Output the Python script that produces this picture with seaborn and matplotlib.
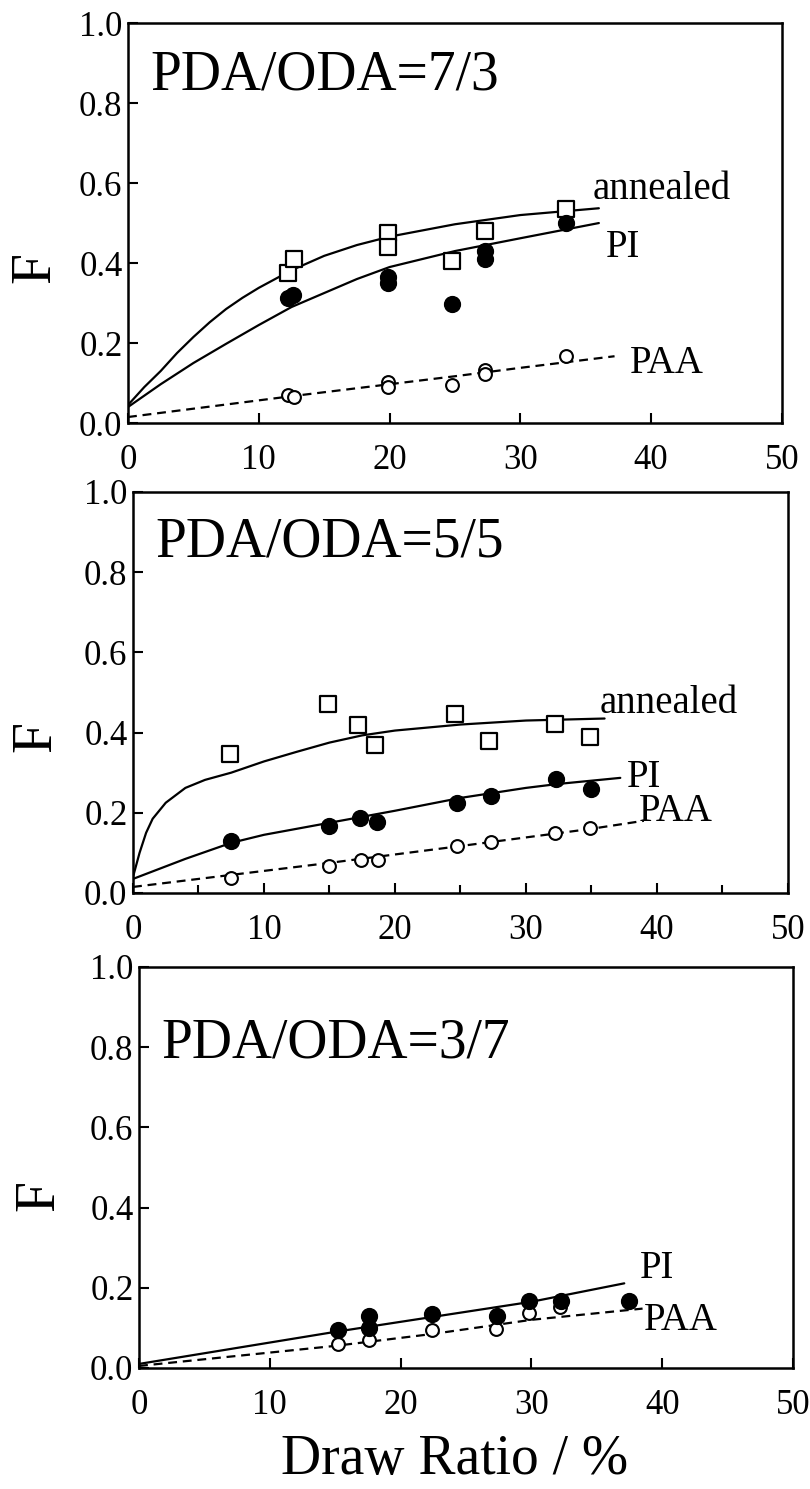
import matplotlib
matplotlib.use("Agg")
import matplotlib.pyplot as plt
import seaborn as sns
from matplotlib.ticker import MultipleLocator

sns.set_theme(style="ticks")
plt.rcParams['font.family'] = ['Liberation Serif', 'DejaVu Serif']
plt.rcParams['lines.dashed_pattern'] = [4.0, 2.6]
for key in ['text.color', 'axes.labelcolor', 'xtick.color', 'ytick.color', 'axes.edgecolor']:
    plt.rcParams[key] = 'black'

# ---- panel 1 : PDA/ODA=7/3 ----
p1_ann_x = [12.2, 12.7, 19.9, 19.9, 24.8, 27.3, 33.5]
p1_ann_y = [0.374, 0.409, 0.476, 0.441, 0.406, 0.481, 0.534]
p1_pi_x = [12.2, 12.6, 19.9, 19.9, 24.8, 27.3, 27.3, 33.5]
p1_pi_y = [0.312, 0.319, 0.364, 0.349, 0.297, 0.431, 0.411, 0.501]
p1_paa_x = [12.2, 12.7, 19.9, 19.9, 24.8, 27.3, 27.3, 33.5]
p1_paa_y = [0.070, 0.065, 0.102, 0.090, 0.095, 0.132, 0.122, 0.167]

p1_ann_fit_x = [0, 1.25, 2.5, 3.75, 5, 6.25, 7.5, 8.75, 10, 12.5, 15, 17.5, 20, 25, 30, 36]
p1_ann_fit_y = [0.045, 0.09, 0.13, 0.175, 0.215, 0.252, 0.285, 0.313, 0.338, 0.382, 0.418,
                0.445, 0.466, 0.497, 0.52, 0.537]
p1_pi_fit_x = [0, 2.5, 5, 7.5, 10, 12.5, 15, 17.5, 20, 25, 30, 36]
p1_pi_fit_y = [0.04, 0.097, 0.15, 0.198, 0.245, 0.29, 0.325, 0.36, 0.39, 0.43, 0.462, 0.50]
p1_paa_fit_x = [0, 12, 20, 25, 30, 37.2]
p1_paa_fit_y = [0.015, 0.065, 0.097, 0.117, 0.138, 0.167]

# ---- panel 2 : PDA/ODA=5/5 ----
p2_ann_x = [7.4, 14.9, 17.2, 18.5, 24.6, 27.2, 32.2, 34.9]
p2_ann_y = [0.347, 0.470, 0.418, 0.368, 0.446, 0.380, 0.421, 0.388]
p2_pi_x = [7.5, 15.0, 17.3, 18.6, 24.7, 27.3, 32.3, 35.0]
p2_pi_y = [0.130, 0.168, 0.187, 0.176, 0.225, 0.243, 0.284, 0.259]
p2_paa_x = [7.5, 15.0, 17.4, 18.7, 24.7, 27.3, 32.2, 34.9]
p2_paa_y = [0.037, 0.067, 0.082, 0.082, 0.116, 0.128, 0.150, 0.162]

p2_ann_fit_x = [0, 0.5, 1, 1.5, 2.5, 4, 5.5, 7.5, 10, 12.5, 15, 17.5, 20, 25, 30, 36]
p2_ann_fit_y = [0.04, 0.10, 0.15, 0.185, 0.225, 0.262, 0.282, 0.30, 0.328, 0.352, 0.375,
                0.393, 0.405, 0.42, 0.43, 0.435]
p2_pi_fit_x = [0, 4, 7.5, 10, 15, 20, 25, 30, 32.5, 37.2]
p2_pi_fit_y = [0.035, 0.085, 0.125, 0.145, 0.175, 0.205, 0.237, 0.262, 0.272, 0.287]
p2_paa_fit_x = [0, 7.5, 15, 25, 35, 39]
p2_paa_fit_y = [0.015, 0.045, 0.075, 0.117, 0.16, 0.18]

# ---- panel 3 : PDA/ODA=3/7 ----
p3_pi_x = [15.2, 17.6, 17.6, 22.4, 27.4, 29.8, 32.3, 37.5]
p3_pi_y = [0.095, 0.129, 0.100, 0.134, 0.129, 0.168, 0.168, 0.168]
p3_paa_x = [15.2, 17.6, 22.4, 27.3, 29.8, 32.2]
p3_paa_y = [0.060, 0.069, 0.095, 0.098, 0.138, 0.151]

p3_pi_fit_x = [0, 15, 30, 37.1]
p3_pi_fit_y = [0.01, 0.09, 0.165, 0.211]
p3_paa_fit_x = [0, 15, 22.5, 30, 38.5]
p3_paa_fit_y = [0.005, 0.055, 0.085, 0.12, 0.148]

titles = ['PDA/ODA=7/3', 'PDA/ODA=5/5', 'PDA/ODA=3/7']
x_ticks = [0, 10, 20, 30, 40, 50]
y_ticks = [0.0, 0.2, 0.4, 0.6, 0.8, 1.0]
y_tick_labels = ['0.0', '0.2', '0.4', '0.6', '0.8', '1.0']

fig = plt.figure(figsize=(8.1, 14.89), dpi=100)
ax1 = fig.add_axes([0.1580, 0.7159, 0.8074, 0.2686])
ax2 = fig.add_axes([0.1642, 0.4003, 0.8086, 0.2693])
ax3 = fig.add_axes([0.1716, 0.0813, 0.8074, 0.2693])


def fit_line(ax, xs, ys, dashed=False):
    sns.lineplot(x=xs, y=ys, ax=ax, color='black', lw=1.6, sort=False,
                 estimator=None, linestyle='--' if dashed else '-', zorder=2)


def points(ax, xs, ys, kind):
    if kind == 'square':
        sns.scatterplot(x=xs, y=ys, ax=ax, marker='s', s=130, facecolor='white',
                        edgecolor='black', linewidth=1.6, zorder=3)
    elif kind == 'filled':
        sns.scatterplot(x=xs, y=ys, ax=ax, marker='o', s=130, color='black',
                        edgecolor='black', linewidth=1, zorder=3)
    else:
        sns.scatterplot(x=xs, y=ys, ax=ax, marker='o', s=85, facecolor='white',
                        edgecolor='black', linewidth=1.5, zorder=3)


# panel 1
fit_line(ax1, p1_ann_fit_x, p1_ann_fit_y)
fit_line(ax1, p1_pi_fit_x, p1_pi_fit_y)
fit_line(ax1, p1_paa_fit_x, p1_paa_fit_y, dashed=True)
points(ax1, p1_ann_x, p1_ann_y, 'square')
points(ax1, p1_pi_x, p1_pi_y, 'filled')
points(ax1, p1_paa_x, p1_paa_y, 'open')
ax1.text(35.5, 0.561, 'annealed', fontsize=28)
ax1.text(36.5, 0.414, 'PI', fontsize=28)
ax1.text(38.4, 0.125, 'PAA', fontsize=28)

# panel 2
fit_line(ax2, p2_ann_fit_x, p2_ann_fit_y)
fit_line(ax2, p2_pi_fit_x, p2_pi_fit_y)
fit_line(ax2, p2_paa_fit_x, p2_paa_fit_y, dashed=True)
points(ax2, p2_ann_x, p2_ann_y, 'square')
points(ax2, p2_pi_x, p2_pi_y, 'filled')
points(ax2, p2_paa_x, p2_paa_y, 'open')
ax2.text(35.6, 0.45, 'annealed', fontsize=28)
ax2.text(37.7, 0.263, 'PI', fontsize=28)
ax2.text(38.6, 0.18, 'PAA', fontsize=28)

# panel 3
fit_line(ax3, p3_pi_fit_x, p3_pi_fit_y)
fit_line(ax3, p3_paa_fit_x, p3_paa_fit_y, dashed=True)
points(ax3, p3_paa_x, p3_paa_y, 'open')
points(ax3, p3_pi_x, p3_pi_y, 'filled')
ax3.text(38.3, 0.225, 'PI', fontsize=28)
ax3.text(38.6, 0.095, 'PAA', fontsize=28)

title_y = [0.835, 0.838, 0.775]
f_pos = [(-0.102, 0.39), (-0.108, 0.39), (-0.112, 0.43)]
for ax, title, ty, fp in zip([ax1, ax2, ax3], titles, title_y, f_pos):
    ax.set_xlim(0, 50)
    ax.set_ylim(0, 1.0)
    ax.set_xticks(x_ticks)
    ax.set_xticklabels([str(t) for t in x_ticks])
    ax.set_yticks(y_ticks)
    ax.set_yticklabels(y_tick_labels)
    ax.tick_params(direction='in', length=7.5, width=1.5, labelsize=25,
                   top=False, right=False)
    ax.tick_params(axis='x', pad=15)
    ax.tick_params(axis='y', pad=4)
    for sp in ax.spines.values():
        sp.set_linewidth(1.8)
        sp.set_color('black')
    ax.set_xlabel('')
    ax.set_ylabel('F', fontsize=40, rotation=90)
    ax.yaxis.set_label_coords(*fp)
    ax.text(0.034, ty, title, transform=ax.transAxes, fontsize=40, va='baseline')

ax2.xaxis.set_minor_locator(MultipleLocator(5))
ax2.tick_params(which='minor', direction='in', length=6, width=1.5, top=False)

fig.text(455 / 810, 1 - 1474 / 1489, 'Draw Ratio / %', ha='center', va='baseline', fontsize=40)

fig.savefig('out.png', dpi=100, facecolor='white')
